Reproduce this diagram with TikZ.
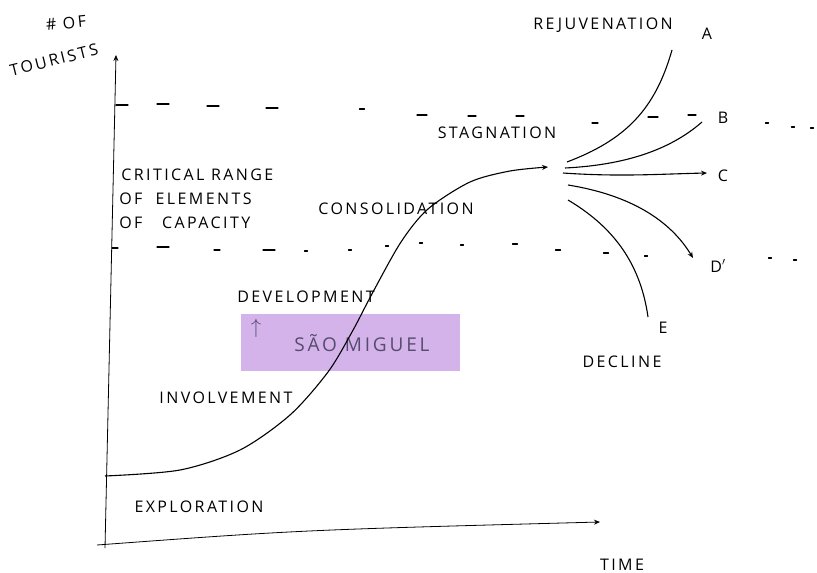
\documentclass[tikz,border=0pt]{standalone}
\usepackage{fontspec}
\setmainfont{Open Sans}[LetterSpace=15]
\usepackage{tikz}
\usetikzlibrary{arrows.meta}
\definecolor{marker}{HTML}{D4B3EA}
\definecolor{markerink}{HTML}{564C6E}
\tikzset{hand/.style={font=\fontsize{16}{18}\selectfont, inner sep=1pt},
  leftlabel/.style={hand, anchor=west},
  dashmark/.style={line width=1.3pt, line cap=round},
  branch/.style={line width=1.1pt}}

\begin{document}
\begin{tikzpicture}[x=1pt, y=-1pt, thick, >={Stealth[length=6pt,width=5pt]}]
    \useasboundingbox (0,0) rectangle (817,573);
    
    \fill [marker] (241,314) rectangle (460,371);
    \node [hand, text=markerink, font=\fontsize{20}{22}\selectfont] (arrowup) at (256,328) {$\uparrow$};
    \node [hand, text=markerink, font=\fontsize{19}{21}\selectfont] (saomiguel) at (362,343) {SÃO MIGUEL};
    
    \coordinate (origin) at (105,548);
    \coordinate (ytop) at (116,55);
    \coordinate (xstart) at (97,545);
    \coordinate (xend) at (600,522);
    \draw [->] (origin) -- (ytop);
    \draw [->] (xstart) .. controls (300,530) .. (xend);
    
    % critical range, upper and lower
    \foreach \x/\y/\l in {122/105/12, 163/104/12, 213/106/12, 272/108/12, 362/109/5, 422/115/10, 472/116/8, 520/116/8, 595/123/6, 653/117/10, 692/115/8, 767/123/3, 793/127/3, 812/128/3}
        \draw [dashmark] (\x-\l/2, \y) -- (\x+\l/2, \y);
    \foreach \x/\y/\l in {115/248/6, 163/247/12, 217/250/6, 269/250/12, 306/251/3, 350/250/3, 387/246/3, 421/243/3, 462/245/3, 515/244/5, 558/250/5, 606/253/5, 646/256/3, 770/258/3, 795/260/3}
        \draw [dashmark] (\x-\l/2, \y) -- (\x+\l/2, \y);
    
    \coordinate (start) at (105,476);
    \coordinate (stag) at (548,167);
    \draw [branch, ->] plot [smooth] coordinates {(start) (180,470) (240,450) (290,415) (328,372) (352,332) (373,292) (401,242) (428,209) (470,182) (510,171) (stag)};
    
    \coordinate (a0) at (567,162);
    \coordinate (b0) at (565,168);
    \coordinate (c0) at (563,173);
    \coordinate (d0) at (568,185);
    \coordinate (e0) at (568,200);
    \coordinate (a1) at (672,50);
    \coordinate (b1) at (702,122);
    \coordinate (c1) at (707,173);
    \coordinate (d1) at (693,258);
    \coordinate (e1) at (648,317);
    \draw [branch] (a0) .. controls (625,140) and (655,110) .. (a1);
    \draw [branch] (b0) .. controls (625,165) and (670,150) .. (b1);
    \draw [branch, ->] (c0) .. controls (620,177) and (660,174) .. (c1);
    \draw [branch, ->] (d0) .. controls (630,195) and (670,220) .. (d1);
    \draw [branch] (e0) .. controls (610,225) and (640,260) .. (e1);
    
    \node [hand, rotate=6] (numof) at (66,23) {\# OF};
    \node [hand, rotate=14] (tourists) at (54,60) {TOURISTS};
    \node [hand] (rejuv) at (603,25) {REJUVENATION};
    \node [hand] (labA) at (707,34) {A};
    \node [hand] (labB) at (723,118) {B};
    \node [hand] (labC) at (723,176) {C};
    \node [hand] (labD) at (718,266) {D$'$};
    \node [hand] (labE) at (663,328) {E};
    \node [hand] (decline) at (622,362) {DECLINE};
    \node [hand] (stagnation) at (497,133) {STAGNATION};
    \node [leftlabel] (critical) at (120,175) {CRITICAL RANGE};
    \node [leftlabel] (elements) at (118,199) {OF \ ELEMENTS};
    \node [leftlabel] (capacity) at (118,223) {OF \ \ CAPACITY};
    \node [hand] (consol) at (396,209) {CONSOLIDATION};
    \node [hand] (develop) at (306,297) {DEVELOPMENT};
    \node [hand] (involve) at (226,398) {INVOLVEMENT};
    \node [hand] (explore) at (199,507) {EXPLORATION};
    \node [hand] (time) at (622,565) {TIME};
    
\end{tikzpicture}
\end{document}
